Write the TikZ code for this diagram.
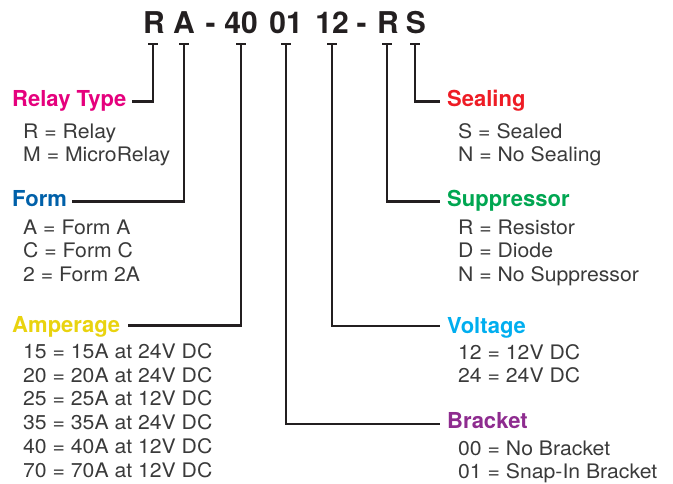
\documentclass[tikz,border=0pt]{standalone}
\usepackage{fontspec}
\setmainfont{TeX Gyre Heros}
\newfontfamily\bodyfont[FakeStretch=1.06]{TeX Gyre Heros}
\definecolor{cpink}{HTML}{E5007D}
\definecolor{cblue}{HTML}{0060A9}
\definecolor{cyellow}{HTML}{E9D30F}
\definecolor{cred}{HTML}{EE1C25}
\definecolor{cgreen}{HTML}{00A651}
\definecolor{ccyan}{HTML}{00AEEF}
\definecolor{cpurple}{HTML}{8E2C8F}
\definecolor{cline}{HTML}{231F20}
\definecolor{ctext}{HTML}{3A3A3A}
\tikzset{
  titletext/.style={anchor=base,inner sep=0pt,font=\fontsize{30}{30}\selectfont\bfseries,text=cline},
  headtext/.style={anchor=base west,inner sep=0pt,font=\fontsize{22}{22}\selectfont\bfseries},
  bodytext/.style={anchor=base west,inner sep=0pt,font=\bodyfont\fontsize{20}{20}\selectfont,text=ctext},
  conn/.style={draw=cline,line width=2.2pt,line join=miter},
  tickbar/.style={draw=cline,line width=2pt}
}
\begin{document}
\begin{tikzpicture}[x=1pt,y=-1pt]
\useasboundingbox (0,0) rectangle (673,483);
% title
\node[titletext] (cR) at (154,33) {R};
\node[titletext] (cA) at (184,33) {A};
\node[titletext] (d1) at (210.5,33) {-};
\node[titletext] (c40) at (241,33) {40};
\node[titletext] (c01) at (286,33) {01};
\node[titletext] (c12) at (332,33) {12};
\node[titletext] (d2) at (361.5,33) {-};
\node[titletext] (cR2) at (388,33) {R};
\node[titletext] (cS) at (416,33) {S};
% tick tops
\coordinate (tR) at (153,44);
\coordinate (tA) at (184,44);
\coordinate (t40) at (241,44);
\coordinate (t01) at (286,44);
\coordinate (t12) at (332,44);
\coordinate (tR2) at (387,44);
\coordinate (tS) at (415,44);
\foreach \t in {tR,tA,t40,t01,t12,tR2,tS}{
  \draw[tickbar] ([xshift=-5pt]\t) -- ([xshift=5pt]\t);
}
% headings
\node[headtext,text=cpink] (relay) at (12,106.5) {Relay Type};
\node[headtext,text=cblue] (form) at (12,206.5) {Form};
\node[headtext,text=cyellow] (amp) at (12,332.5) {Amperage};
\node[headtext,text=cred] (seal) at (447,106.5) {Sealing};
\node[headtext,text=cgreen] (supp) at (447,206.5) {Suppressor};
\node[headtext,text=ccyan] (volt) at (447,333) {Voltage};
\node[headtext,text=cpurple] (brack) at (447,428.5) {Bracket};
% line ends
\coordinate (eR) at (132,101.5);
\coordinate (eA) at (72,201.5);
\coordinate (e40) at (128,325.5);
\coordinate (eS) at (440,101.5);
\coordinate (eR2) at (440,201.5);
\coordinate (e12) at (440,326);
\coordinate (e01) at (440,424);
% connectors
\draw[conn] (tR) |- (eR);
\draw[conn] (tA) |- (eA);
\draw[conn] (t40) |- (e40);
\draw[conn] (tS) |- (eS);
\draw[conn] (tR2) |- (eR2);
\draw[conn] (t12) |- (e12);
\draw[conn] (t01) |- (e01);
% body text
\node[bodytext] (r1) at (23,138) {R = Relay};
\node[bodytext] (r2) at (23,161.5) {M = MicroRelay};
\node[bodytext] (f1) at (23,234) {A = Form A};
\node[bodytext] (f2) at (23,257.7) {C = Form C};
\node[bodytext] (f3) at (23,281.4) {2 = Form 2A};
\node[bodytext] (a1) at (23,358.5) {15 = 15A at 24V DC};
\node[bodytext] (a2) at (23,382.2) {20 = 20A at 24V DC};
\node[bodytext] (a3) at (23,405.9) {25 = 25A at 12V DC};
\node[bodytext] (a4) at (23,429.6) {35 = 35A at 24V DC};
\node[bodytext] (a5) at (23,453.3) {40 = 40A at 12V DC};
\node[bodytext] (a6) at (23,477) {70 = 70A at 12V DC};
\node[bodytext] (s1) at (458,138) {S = Sealed};
\node[bodytext] (s2) at (458,161.5) {N = No Sealing};
\node[bodytext] (p1) at (458,234) {R = Resistor};
\node[bodytext] (p2) at (458,257.7) {D = Diode};
\node[bodytext] (p3) at (458,281.4) {N = No Suppressor};
\node[bodytext] (v1) at (458,359.3) {12 = 12V DC};
\node[bodytext] (v2) at (458,382.8) {24 = 24V DC};
\node[bodytext] (b1) at (458,455) {00 = No Bracket};
\node[bodytext] (b2) at (458,478.3) {01 = Snap-In Bracket};
\end{tikzpicture}
\end{document}
